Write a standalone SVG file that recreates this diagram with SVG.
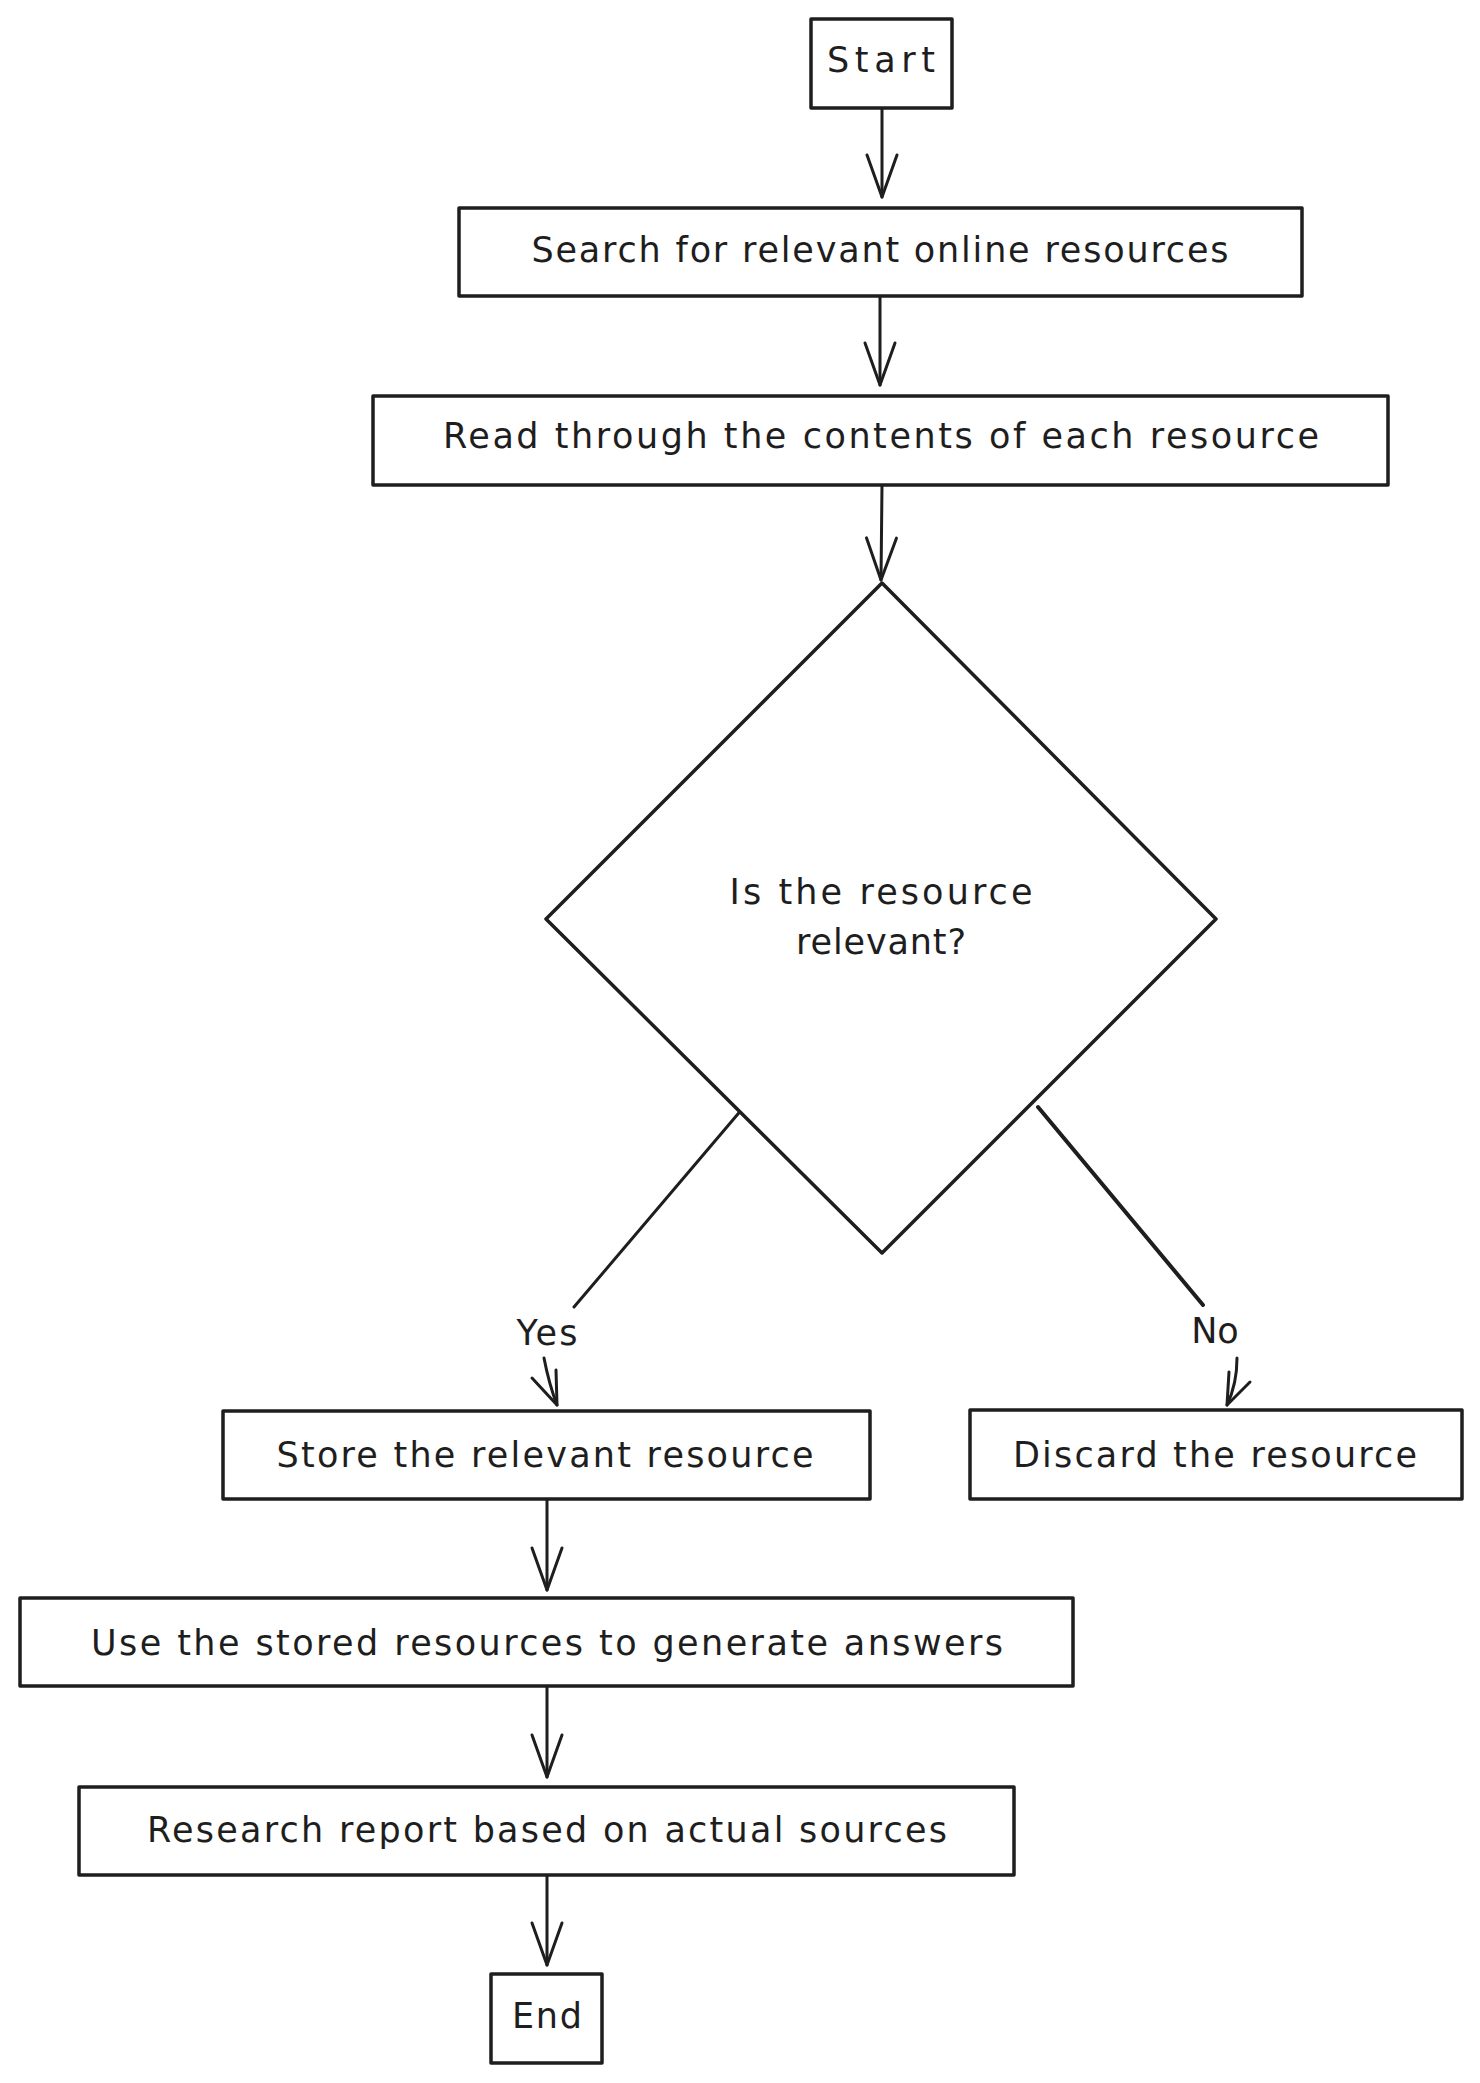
<svg xmlns="http://www.w3.org/2000/svg" width="1480" height="2083" viewBox="0 0 1480 2083">
<style>
.box{fill:#ffffff;stroke:#1e1e1e;stroke-width:3.5;stroke-linejoin:round}
.lbl{font-family:"DejaVu Sans","Liberation Sans",sans-serif;font-size:35px;fill:#1e1e1e;text-anchor:middle}
.con{fill:none;stroke:#1e1e1e;stroke-width:3;stroke-linecap:round;stroke-linejoin:round}
</style>
<defs>
<marker id="ah" markerUnits="userSpaceOnUse" viewBox="0 0 46 32" refX="44" refY="16" markerWidth="46" markerHeight="32" orient="auto" overflow="visible">
<path d="M2,1 L44,16 L2,31" fill="none" stroke="#1e1e1e" stroke-width="3" stroke-linecap="round" stroke-linejoin="round"/>
</marker>
</defs>
<rect width="1480" height="2083" fill="#ffffff"/>
<g id="connectors">
<line class="con" x1="882" y1="108" x2="882" y2="197" marker-end="url(#ah)"/>
<line class="con" x1="880" y1="296" x2="880" y2="385" marker-end="url(#ah)"/>
<line class="con" x1="882" y1="485" x2="881" y2="580" marker-end="url(#ah)"/>
<line class="con" x1="743" y1="1108" x2="574" y2="1307"/>
<line class="con" x1="739" y1="1102" x2="745" y2="1112"/>
<text class="lbl" x="547" y="1345" textLength="61">Yes</text>
<path class="con" d="M544,1358 Q549,1384 557,1405"/>
<path class="con" d="M532,1378 L557,1405 L556,1370"/>
<line class="con" x1="1038" y1="1107" x2="1203" y2="1305" style="stroke-width:4"/>
<text class="lbl" x="1215" y="1343">No</text>
<path class="con" d="M1237,1358 Q1237,1384 1227,1405"/>
<path class="con" d="M1250,1382 L1227,1405 L1229,1372"/>
<line class="con" x1="547" y1="1500" x2="547" y2="1590" marker-end="url(#ah)"/>
<line class="con" x1="547" y1="1686" x2="547" y2="1777" marker-end="url(#ah)"/>
<line class="con" x1="547" y1="1875" x2="547" y2="1965" marker-end="url(#ah)"/>
</g>
<g id="start">
<rect class="box" x="811" y="19" width="141" height="89"/>
<text class="lbl" x="881" y="72" textLength="108">Start</text>
</g>
<g id="search">
<rect class="box" x="459" y="208" width="843" height="88"/>
<text class="lbl" x="880" y="262" textLength="697">Search for relevant online resources</text>
</g>
<g id="read">
<rect class="box" x="373" y="396" width="1015" height="89"/>
<text class="lbl" x="881" y="448" textLength="876">Read through the contents of each resource</text>
</g>
<g id="decision">
<polygon class="box" points="882,583 1216,919 882,1253 546,919"/>
<text class="lbl" x="881" y="904" textLength="303">Is the resource</text>
<text class="lbl" x="881" y="954" textLength="170">relevant?</text>
</g>
<g id="store">
<rect class="box" x="223" y="1411" width="647" height="88"/>
<text class="lbl" x="545" y="1467" textLength="537">Store the relevant resource</text>
</g>
<g id="discard">
<rect class="box" x="970" y="1410" width="492" height="89"/>
<text class="lbl" x="1215" y="1467" textLength="404">Discard the resource</text>
</g>
<g id="use">
<rect class="box" x="20" y="1598" width="1053" height="88"/>
<text class="lbl" x="547" y="1655" textLength="912">Use the stored resources to generate answers</text>
</g>
<g id="report">
<rect class="box" x="79" y="1787" width="935" height="88"/>
<text class="lbl" x="547" y="1842" textLength="800">Research report based on actual sources</text>
</g>
<g id="end">
<rect class="box" x="491" y="1974" width="111" height="89"/>
<text class="lbl" x="547" y="2028" textLength="70">End</text>
</g>
</svg>
